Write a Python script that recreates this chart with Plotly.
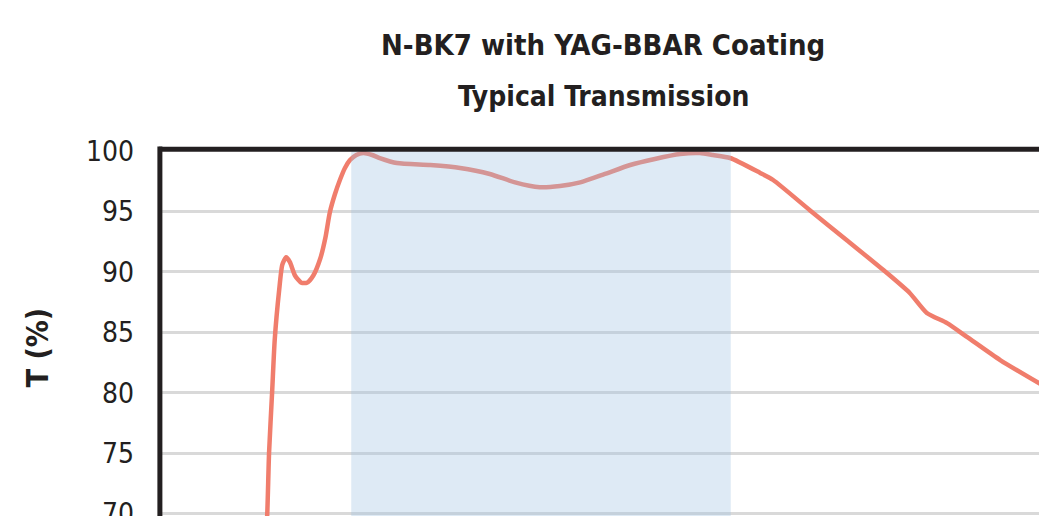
import plotly.graph_objects as go

# Wavelength (nm) and transmission (%)
wavelength = [365, 367, 370, 375, 379, 386, 391, 397, 403, 411, 421, 430, 440, 451,
              459, 466, 474, 482, 490, 498, 508, 519, 533, 545, 572, 625, 672, 719,
              759, 798, 830, 862, 901, 941, 980, 1020, 1051, 1072, 1099, 1146, 1167,
              1225, 1284, 1347, 1383, 1410, 1442, 1474, 1526, 1600]
transmission = [68.6, 69.8, 75.0, 80.2, 84.4, 88.5, 90.6, 91.2, 90.8, 89.7, 89.1, 89.1,
                89.7, 91.1, 92.8, 94.9, 96.4, 97.6, 98.6, 99.25, 99.67, 99.83, 99.67,
                99.42, 99.0, 98.84, 98.6, 98.1, 97.4, 97.0, 97.1, 97.4, 98.1, 98.84,
                99.34, 99.75, 99.83, 99.67, 99.42, 98.2, 97.6, 95.1, 92.6, 89.9, 88.25,
                86.6, 85.76, 84.6, 82.7, 80.4]

band_range = [500, 1100]          # design band (shaded)
x_range = [196, 1600]
y_range = [69.8, 100]
y_ticks = [70, 75, 80, 85, 90, 95, 100]

title_lines = ["N-BK7 with YAG-BBAR Coating", "Typical Transmission"]
y_title = "T (%)"

TEXT = "#231f20"
FONT = "DejaVu Sans Condensed, Liberation Sans Narrow, sans-serif"


def font(size, weight="normal"):
    return dict(family=FONT, size=size, color=TEXT, weight=weight)


fig = go.Figure()
fig.add_trace(go.Scatter(
    x=wavelength, y=transmission, mode="lines",
    line=dict(color="#f07d6c", width=4.5, shape="spline", smoothing=0.6),
    hoverinfo="skip", showlegend=False,
))

shapes = [
    dict(type="rect", xref="x", yref="paper", x0=band_range[0], x1=band_range[1],
         y0=0, y1=1, fillcolor="rgba(161,195,226,0.35)", line=dict(width=0),
         layer="above"),
    dict(type="line", xref="paper", yref="paper", x0=0, x1=1, y0=1.005, y1=1.005,
         line=dict(color=TEXT, width=5), layer="above"),
    dict(type="line", xref="paper", yref="paper", x0=0.001, x1=0.001, y0=0, y1=1.012,
         line=dict(color=TEXT, width=5), layer="above"),
]

annotations = [
    dict(text=f"<b>{title_lines[0]}</b>", xref="paper", yref="paper", x=0.5, y=1.290,
         xanchor="center", yanchor="middle", showarrow=False, font=font(29, "bold")),
    dict(text=f"<b>{title_lines[1]}</b>", xref="paper", yref="paper", x=0.5, y=1.148,
         xanchor="center", yanchor="middle", showarrow=False, font=font(28, "bold")),
    dict(text=f"<b>{y_title}</b>", xref="paper", yref="paper", x=-0.137, y=0.463,
         xanchor="center", yanchor="middle", showarrow=False, textangle=-90,
         font=font(30, "bold")),
]

fig.update_layout(
    width=1039, height=508,
    margin=dict(l=151, r=0, t=143, b=0, autoexpand=False),
    paper_bgcolor="white", plot_bgcolor="white",
    shapes=shapes, annotations=annotations,
    xaxis=dict(range=x_range, showgrid=False, zeroline=False, showticklabels=False,
               showline=False, ticks="", automargin=False),
    yaxis=dict(range=y_range, tickvals=y_ticks, showgrid=True, gridcolor="#d9d9d9",
               gridwidth=3, zeroline=False, showline=False, ticks="",
               automargin=False, ticklabelstandoff=24, ticklabeloverflow="allow",
               tickfont=font(28)),
)

fig.write_html("out.html")
